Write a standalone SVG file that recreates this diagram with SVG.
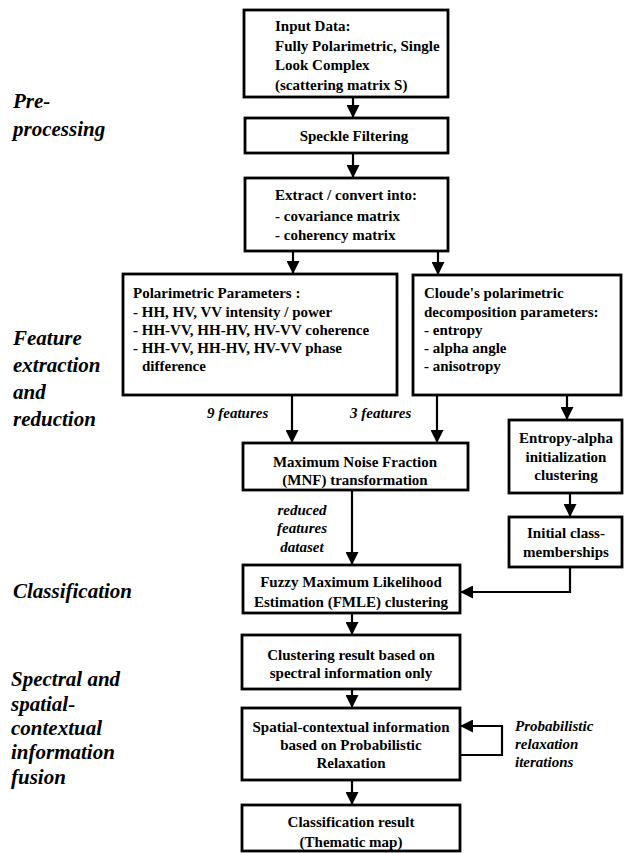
<svg xmlns="http://www.w3.org/2000/svg" width="626" height="853" viewBox="0 0 626 853">
  <style>
    .box { fill: none; stroke: #000; stroke-width: 2.8; }
    .t { font-family: "Liberation Serif", "Times New Roman", serif; font-size: 15px; font-weight: bold; fill: #000; }
    .c { text-anchor: middle; }
    .lbl { font-family: "Liberation Serif", "Times New Roman", serif; font-size: 15px; font-style: italic; font-weight: bold; fill: #000; }
    .stage { font-family: "Liberation Serif", "Times New Roman", serif; font-size: 21px; font-style: italic; font-weight: bold; fill: #000; }
    .wire { fill: none; stroke: #000; stroke-width: 2.2; marker-end: url(#ah); }
  </style>
  <defs>
    <marker id="ah" viewBox="0 0 12 12" refX="12" refY="6" markerWidth="13" markerHeight="13" markerUnits="userSpaceOnUse" orient="auto">
      <path d="M0,0 L12,6 L0,12 Z" fill="#000"/>
    </marker>
  </defs>

  <rect width="626" height="853" fill="#fff"/>

  <!-- stage labels -->
  <g id="stages">
    <text class="stage" x="13" y="108">Pre-</text>
    <text class="stage" x="13" y="136">processing</text>
    <text class="stage" x="13" y="345">Feature</text>
    <text class="stage" x="13" y="372">extraction</text>
    <text class="stage" x="13" y="399">and</text>
    <text class="stage" x="13" y="426">reduction</text>
    <text class="stage" x="13" y="598">Classification</text>
    <text class="stage" x="11" y="686">Spectral and</text>
    <text class="stage" x="11" y="711">spatial-</text>
    <text class="stage" x="11" y="735">contextual</text>
    <text class="stage" x="11" y="759">information</text>
    <text class="stage" x="11" y="784">fusion</text>
  </g>

  <!-- connectors -->
  <g id="connectors">
    <line class="wire" x1="353" y1="97" x2="353" y2="118"/>
    <line class="wire" x1="353" y1="153" x2="353" y2="178"/>
    <line class="wire" x1="293" y1="251" x2="293" y2="274"/>
    <line class="wire" x1="438" y1="251" x2="438" y2="275"/>
    <line class="wire" x1="292" y1="395" x2="292" y2="443"/>
    <line class="wire" x1="437" y1="395" x2="437" y2="443"/>
    <line class="wire" x1="567" y1="395" x2="567" y2="420"/>
    <line class="wire" x1="352" y1="490" x2="352" y2="565"/>
    <line class="wire" x1="570" y1="493" x2="570" y2="517"/>
    <polyline class="wire" points="570,567 570,592 460,592"/>
    <line class="wire" x1="352" y1="613" x2="352" y2="635"/>
    <line class="wire" x1="352" y1="689" x2="352" y2="708"/>
    <line class="wire" x1="352" y1="780" x2="352" y2="805"/>
    <polyline class="wire" points="460,755 502,755 502,726 460,726"/>
    <text class="lbl" x="207" y="418">9 features</text>
    <text class="lbl" x="350" y="418">3 features</text>
    <text class="lbl c" x="302" y="515">reduced</text>
    <text class="lbl c" x="302" y="533">features</text>
    <text class="lbl c" x="302" y="552">dataset</text>
    <text class="lbl" x="515" y="731">Probabilistic</text>
    <text class="lbl" x="515" y="749">relaxation</text>
    <text class="lbl" x="515" y="767">iterations</text>
  </g>

  <g id="input">
    <rect class="box" x="244" y="10" width="204" height="87"/>
    <text class="t" x="275" y="31">Input Data:</text>
    <text class="t" x="275" y="51">Fully Polarimetric, Single</text>
    <text class="t" x="275" y="70">Look Complex</text>
    <text class="t" x="275" y="90">(scattering matrix S)</text>
  </g>

  <g id="speckle">
    <rect class="box" x="245" y="118" width="203" height="35"/>
    <text class="t c" x="354" y="141">Speckle Filtering</text>
  </g>

  <g id="extract">
    <rect class="box" x="245" y="178" width="203" height="73"/>
    <text class="t" x="275" y="200">Extract / convert into:</text>
    <text class="t" x="275" y="221">- covariance matrix</text>
    <text class="t" x="275" y="240">- coherency matrix</text>
  </g>

  <g id="polarimetric">
    <rect class="box" x="123" y="274" width="274" height="121"/>
    <text class="t" x="133" y="298">Polarimetric Parameters :</text>
    <text class="t" x="133" y="317">- HH, HV, VV intensity / power</text>
    <text class="t" x="133" y="335">- HH-VV, HH-HV, HV-VV coherence</text>
    <text class="t" x="133" y="353">- HH-VV, HH-HV, HV-VV phase</text>
    <text class="t" x="142" y="371">difference</text>
  </g>

  <g id="cloude">
    <rect class="box" x="413" y="275" width="208" height="120"/>
    <text class="t" x="424" y="298">Cloude's polarimetric</text>
    <text class="t" x="424" y="317">decomposition parameters:</text>
    <text class="t" x="424" y="335">- entropy</text>
    <text class="t" x="424" y="353">- alpha angle</text>
    <text class="t" x="424" y="371">- anisotropy</text>
  </g>

  <g id="mnf">
    <rect class="box" x="243" y="443" width="225" height="47"/>
    <text class="t c" x="355" y="467">Maximum Noise Fraction</text>
    <text class="t c" x="355" y="485">(MNF) transformation</text>
  </g>

  <g id="entropy-alpha">
    <rect class="box" x="509" y="420" width="113" height="73"/>
    <text class="t c" x="566" y="443">Entropy-alpha</text>
    <text class="t c" x="566" y="462">initialization</text>
    <text class="t c" x="566" y="480">clustering</text>
  </g>

  <g id="initial">
    <rect class="box" x="509" y="517" width="113" height="50"/>
    <text class="t c" x="566" y="538">Initial class-</text>
    <text class="t c" x="566" y="557">memberships</text>
  </g>

  <g id="fmle">
    <rect class="box" x="243" y="565" width="217" height="48"/>
    <text class="t c" x="351" y="587">Fuzzy Maximum Likelihood</text>
    <text class="t c" x="351" y="607">Estimation (FMLE) clustering</text>
  </g>

  <g id="spectral-result">
    <rect class="box" x="242" y="635" width="218" height="54"/>
    <text class="t c" x="351" y="660">Clustering result based on</text>
    <text class="t c" x="351" y="678">spectral information only</text>
  </g>

  <g id="relaxation">
    <rect class="box" x="242" y="708" width="218" height="72"/>
    <text class="t c" x="351" y="732">Spatial-contextual information</text>
    <text class="t c" x="351" y="750">based on Probabilistic</text>
    <text class="t c" x="351" y="768">Relaxation</text>
  </g>

  <g id="thematic">
    <rect class="box" x="242" y="805" width="218" height="46"/>
    <text class="t c" x="351" y="827">Classification result</text>
    <text class="t c" x="351" y="847">(Thematic map)</text>
  </g>
</svg>
